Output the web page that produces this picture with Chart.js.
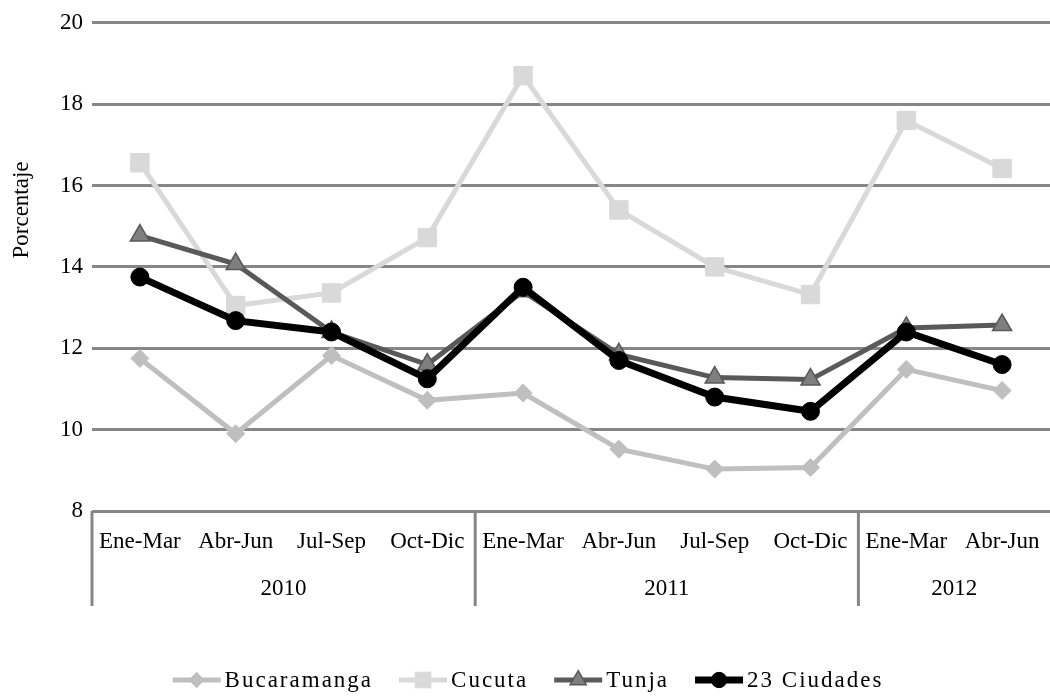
<!DOCTYPE html>
<html>
<head>
<meta charset="utf-8">
<script src="https://cdn.jsdelivr.net/npm/chart.js@4/dist/chart.umd.min.js"></script>
<style>
  html, body { margin: 0; background: #fff; overflow: hidden; }
  #wrap { width: 1050px; height: 697px; }
  canvas { display: block; }
</style>
</head>
<body>
<div id="wrap"><canvas id="myChart"></canvas></div>
<script>
// data
const quarters = ["Ene-Mar", "Abr-Jun", "Jul-Sep", "Oct-Dic", "Ene-Mar", "Abr-Jun", "Jul-Sep", "Oct-Dic", "Ene-Mar", "Abr-Jun"];
const years = ["2010", "2011", "2012"];
const yearSpans = [4, 4, 2];
const bucaramanga = [11.75, 9.9, 11.82, 10.72, 10.9, 9.52, 9.03, 9.07, 11.48, 10.96];
const cucuta = [16.56, 13.05, 13.36, 14.72, 18.7, 15.4, 14.0, 13.32, 17.6, 16.42];
const tunja = [14.77, 14.07, 12.4, 11.6, 13.4, 11.85, 11.28, 11.23, 12.5, 12.57];
const ciudades = [13.75, 12.68, 12.4, 11.25, 13.5, 11.7, 10.8, 10.45, 12.4, 11.6];
const yTicks = [8, 10, 12, 14, 16, 18, 20];

const FONT = "'Liberation Serif', 'Times New Roman', serif";
const GRID = "#868686";

// year groups, separators, axis title and legend
const extras = {
  id: "extras",
  afterDraw(chart) {
    const ctx = chart.ctx;
    const xs = chart.scales.x;
    const area = chart.chartArea;
    const half = (xs.getPixelForValue(1) - xs.getPixelForValue(0)) / 2;
    ctx.save();
    ctx.strokeStyle = GRID;
    ctx.lineWidth = 3;
    ctx.fillStyle = "#000";
    ctx.font = "23px " + FONT;
    ctx.textAlign = "center";
    ctx.textBaseline = "middle";
    let start = 0;
    yearSpans.forEach((n, i) => {
      const x0 = xs.getPixelForValue(start) - half;
      const x1 = xs.getPixelForValue(start + n - 1) + half;
      ctx.beginPath();
      ctx.moveTo(x0, area.bottom);
      ctx.lineTo(x0, area.bottom + 95);
      ctx.stroke();
      ctx.fillText(years[i], (x0 + x1) / 2, area.bottom + 78);
      start += n;
    });

    // y axis title
    ctx.save();
    ctx.translate(22, 210);
    ctx.rotate(-Math.PI / 2);
    ctx.fillText("Porcentaje", 0, 0);
    ctx.restore();

    // legend: line + marker, then label
    ctx.letterSpacing = "2px";
    ctx.textAlign = "left";
    const sym = 48, gap = 4, between = 26;
    const sets = chart.data.datasets;
    const widths = sets.map(d => sym + gap + ctx.measureText(d.label).width);
    const total = widths.reduce((a, b) => a + b, 0) + between * (sets.length - 1);
    let x = chart.width / 2 - total / 2 + 3;
    const y = 680;
    sets.forEach((d, i) => {
      ctx.strokeStyle = d.borderColor;
      ctx.lineWidth = d.borderWidth;
      ctx.beginPath();
      ctx.moveTo(x, y);
      ctx.lineTo(x + sym, y);
      ctx.stroke();
      ctx.fillStyle = d.pointBackgroundColor;
      ctx.strokeStyle = d.pointBorderColor;
      ctx.lineWidth = d.pointBorderWidth;
      Chart.helpers.drawPoint(ctx, {
        pointStyle: d.pointStyle,
        radius: d.pointRadius * 0.85,
        borderWidth: d.pointBorderWidth
      }, x + sym / 2, y);
      ctx.fillStyle = "#000";
      ctx.fillText(d.label, x + sym + gap, y + 1);
      x += widths[i] + between;
    });
    ctx.restore();
  }
};

new Chart("myChart", {
  type: "line",
  data: {
    labels: quarters,
    datasets: [
      {
        label: "Bucaramanga", data: bucaramanga, order: 4,
        borderColor: "#BFBFBF", borderWidth: 5,
        pointStyle: "rectRot", pointRadius: 9, pointBorderWidth: 1,
        pointBackgroundColor: "#BFBFBF", pointBorderColor: "#BFBFBF"
      },
      {
        label: "Cucuta", data: cucuta, order: 3,
        borderColor: "#D9D9D9", borderWidth: 5,
        pointStyle: "rect", pointRadius: 13, pointBorderWidth: 1,
        pointBackgroundColor: "#D9D9D9", pointBorderColor: "#D9D9D9"
      },
      {
        label: "Tunja", data: tunja, order: 2,
        borderColor: "#595959", borderWidth: 5,
        pointStyle: "triangle", pointRadius: 11, pointBorderWidth: 1.5,
        pointBackgroundColor: "#7F7F7F", pointBorderColor: "#595959"
      },
      {
        label: "23 Ciudades", data: ciudades, order: 1,
        borderColor: "#000000", borderWidth: 7,
        pointStyle: "circle", pointRadius: 9, pointBorderWidth: 1,
        pointBackgroundColor: "#000000", pointBorderColor: "#000000"
      }
    ]
  },
  options: {
    responsive: true,
    maintainAspectRatio: false,
    animation: false,
    layout: { autoPadding: false, padding: { left: 51, right: 0, top: 14, bottom: 86 } },
    plugins: {
      legend: { display: false },
      tooltip: { enabled: false }
    },
    elements: { line: { tension: 0 } },
    scales: {
      x: {
        offset: true,
        grid: { display: false },
        border: { display: false },
        ticks: {
          color: "#000", font: { family: FONT, size: 23 },
          padding: 9, autoSkip: false, maxRotation: 0
        },
        afterFit(scale) {
          scale.height = 100;
          scale.paddingLeft = 0;
          scale.paddingRight = 0;
        }
      },
      y: {
        min: 8, max: 20,
        afterBuildTicks(scale) { scale.ticks = yTicks.map(v => ({ value: v })); },
        grid: { color: GRID, lineWidth: 3, drawTicks: false },
        border: { display: false },
        ticks: {
          color: "#000", font: { family: FONT, size: 23 },
          padding: 9
        }
      }
    }
  },
  plugins: [extras]
});
</script>
</body>
</html>
